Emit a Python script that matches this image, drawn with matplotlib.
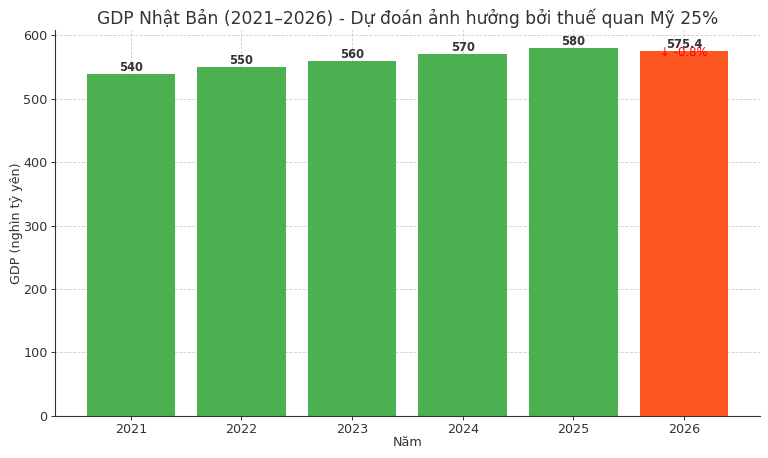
import matplotlib
matplotlib.use("Agg")
import matplotlib.pyplot as plt

years = ["2021", "2022", "2023", "2024", "2025", "2026"]
gdp = [540, 550, 560, 570, 580, 575.4]
bar_colors = ["#4CAF50", "#4CAF50", "#4CAF50", "#4CAF50", "#4CAF50", "#FF5722"]
value_labels = ["540", "550", "560", "570", "580", "575.4"]
change_label = "↓ -0.8%"

text_color = "#333333"

fig, ax = plt.subplots(figsize=(7.68, 4.58), dpi=100)
fig.subplots_adjust(left=0.071, right=0.99, top=0.935, bottom=0.092)

bars = ax.bar(years, gdp, color=bar_colors, width=0.8, zorder=2)

for rect, lbl in zip(bars, value_labels):
    ax.text(rect.get_x() + rect.get_width() / 2, rect.get_height(), lbl,
            ha="center", va="bottom", fontsize=8.3, fontweight="bold",
            color=text_color, zorder=3)

# change vs 2025 on the last bar
last = bars[-1]
ax.text(last.get_x() + last.get_width() / 2, last.get_height() - 3, change_label,
        ha="center", va="center", fontsize=8.5, color="red", zorder=3)

ax.set_title("GDP Nhật Bản (2021–2026) - Dự đoán ảnh hưởng bởi thuế quan Mỹ 25%",
             fontsize=12.3, color=text_color, pad=4.5)
ax.set_xlabel("Năm", fontsize=9.2, color=text_color, labelpad=0)
ax.set_ylabel("GDP (nghìn tỷ yên)", fontsize=9.2, color=text_color, labelpad=0.5)

ax.grid(True, linestyle="--", color="#cccccc", linewidth=0.6, zorder=0)
ax.set_axisbelow(True)
ax.spines["top"].set_visible(False)
ax.spines["right"].set_visible(False)
for s in ("left", "bottom"):
    ax.spines[s].set_color(text_color)
    ax.spines[s].set_linewidth(0.8)
ax.tick_params(colors=text_color, labelsize=9.2, length=2.7, pad=2.2, width=0.7)

fig.savefig("out.png", dpi=100)
